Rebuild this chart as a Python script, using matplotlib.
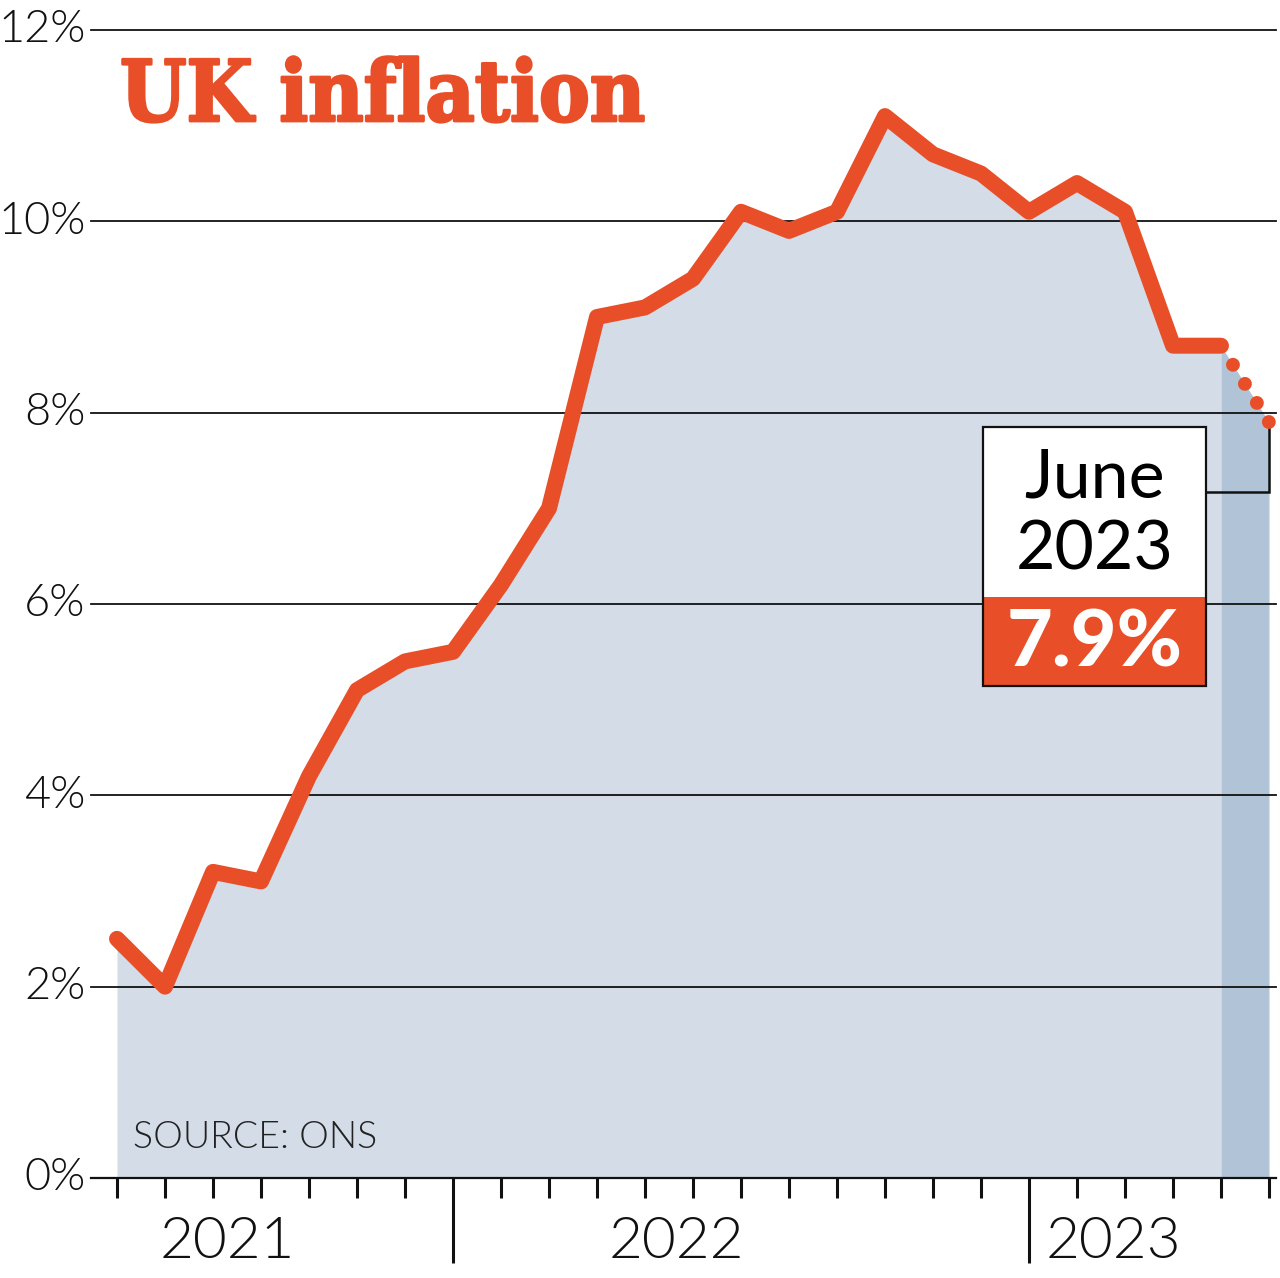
"""UK CPI inflation, June 2021 - June 2023 (source: ONS)."""

import matplotlib
import matplotlib.patheffects as pe
import matplotlib.pyplot as plt
from matplotlib import font_manager
from matplotlib.patches import Rectangle
from matplotlib.transforms import blended_transform_factory

matplotlib.use("Agg")

# ---------------------------------------------------------------------------
# Data
# ---------------------------------------------------------------------------
MONTHS = [
    "Jun 2021", "Jul 2021", "Aug 2021", "Sep 2021", "Oct 2021", "Nov 2021",
    "Dec 2021", "Jan 2022", "Feb 2022", "Mar 2022", "Apr 2022", "May 2022",
    "Jun 2022", "Jul 2022", "Aug 2022", "Sep 2022", "Oct 2022", "Nov 2022",
    "Dec 2022", "Jan 2023", "Feb 2023", "Mar 2023", "Apr 2023", "May 2023",
    "Jun 2023",
]
INFLATION = [
    2.5, 2.0, 3.2, 3.1, 4.2, 5.1, 5.4, 5.5, 6.2, 7.0, 9.0, 9.1, 9.4,
    10.1, 9.9, 10.1, 11.1, 10.7, 10.5, 10.1, 10.4, 10.1, 8.7, 8.7, 7.9,
]
Y_TICKS = [0, 2, 4, 6, 8, 10, 12]
YEAR_LABELS = ["2021", "2022", "2023"]
LATEST_LABEL = "June\n2023"

# ---------------------------------------------------------------------------
# Style
# ---------------------------------------------------------------------------
ORANGE = "#e84e27"
FILL_LIGHT = "#d3dce7"
FILL_DARK = "#b1c3d7"
INK = "#111111"

W, H = 1280, 1278
X0_PX, DX_PX = 117, 48        # pixel position of first month, pixels per month
Y0_PX, Y12_PX = 1178, 30      # pixel rows of 0% and 12%
AX_LEFT_PX, AX_RIGHT_PX = 91, 1276
YEAR_LABEL_X = [2.3, 11.65, 20.75]   # centres of the year labels, in months


def light_font(size):
    """Lato Light if it can be found on disk, else plain Lato."""
    for f in font_manager.fontManager.ttflist:
        base = f.fname.rsplit("/", 1)[-1].lower()
        if base.startswith("lato-light") and "italic" not in base:
            return font_manager.FontProperties(fname=f.fname, size=size)
    return font_manager.FontProperties(family="Lato", size=size)


def main() -> None:
    fig = plt.figure(figsize=(W / 100, H / 100), dpi=100)
    ax = fig.add_axes([
        AX_LEFT_PX / W,
        (H - Y0_PX) / H,
        (AX_RIGHT_PX - AX_LEFT_PX) / W,
        (Y0_PX - Y12_PX) / H,
    ])
    ax.set_xlim((AX_LEFT_PX - X0_PX) / DX_PX, (AX_RIGHT_PX - X0_PX) / DX_PX)
    ax.set_ylim(0, 12)
    for sp in ax.spines.values():
        sp.set_visible(False)

    x = list(range(len(INFLATION)))
    n = len(x)

    # Area under the line; last month is shaded darker
    ax.fill_between(x[: n - 1], 0, INFLATION[: n - 1], color=FILL_LIGHT, lw=0, zorder=1)
    ax.fill_between(x[n - 2:], 0, INFLATION[n - 2:], color=FILL_DARK, lw=0, zorder=1)

    # Horizontal rules
    for yv in Y_TICKS:
        ax.axhline(yv, color=INK, lw=1.6 if yv == 0 else 1.3, zorder=2, clip_on=False)

    # Y labels
    ax.set_yticks(Y_TICKS)
    ax.set_yticklabels([f"{v}%" for v in Y_TICKS], fontproperties=light_font(32.5))
    ax.tick_params(axis="y", length=0, pad=4, labelcolor=INK)
    for lab in ax.get_yticklabels():
        lab.set_verticalalignment("center")

    # Month ticks, longer at year boundaries
    year_starts = [i for i, m in enumerate(MONTHS) if m.startswith("Jan")]
    ax.set_xticks(year_starts)
    ax.set_xticks([i for i in x if i not in year_starts], minor=True)
    ax.set_xticklabels([])
    ax.tick_params(axis="x", which="major", length=61, width=2.2, color=INK, direction="out")
    ax.tick_params(axis="x", which="minor", length=14.5, width=2.2, color=INK, direction="out")

    # Year labels
    trans = blended_transform_factory(ax.transData, fig.transFigure)
    for label, xc in zip(YEAR_LABELS, YEAR_LABEL_X):
        ax.text(xc, (H - 1242) / H, label, transform=trans, ha="center", va="center",
                fontproperties=light_font(42), color=INK)

    # Inflation line: solid to May, dotted to the latest month
    ax.plot(x[: n - 1], INFLATION[: n - 1], color=ORANGE, lw=11.5,
            solid_joinstyle="round", solid_capstyle="round", zorder=3, clip_on=False)
    ax.plot(x[n - 2:], INFLATION[n - 2:], color=ORANGE, lw=10,
            linestyle=(0, (0.001, 1.62)), dash_capstyle="round", zorder=3, clip_on=False)

    # Latest-value callout box
    box_l, box_r = 18.04, 22.69
    box_top, box_mid, box_bot = 7.85, 6.07, 5.14
    ax.add_patch(Rectangle((box_l, box_mid), box_r - box_l, box_top - box_mid,
                           facecolor="white", edgecolor="none", zorder=4))
    ax.add_patch(Rectangle((box_l, box_bot), box_r - box_l, box_mid - box_bot,
                           facecolor=ORANGE, edgecolor="none", zorder=4))
    ax.add_patch(Rectangle((box_l, box_bot), box_r - box_l, box_top - box_bot,
                           facecolor="none", edgecolor=INK, lw=1.6, zorder=5))
    elbow_y = 7.17
    ax.plot([x[-1], x[-1], box_r], [INFLATION[-1], elbow_y, elbow_y],
            color=INK, lw=1.8, zorder=2.5, solid_joinstyle="miter", clip_on=False)
    cx = (box_l + box_r) / 2
    ax.text(cx, (box_top + box_mid) / 2 - 0.02, LATEST_LABEL, ha="center", va="center",
            fontsize=49, fontfamily="Lato", color="black", linespacing=1.2, zorder=6)
    ax.text(cx, (box_mid + box_bot) / 2 - 0.02, f"{INFLATION[-1]:.1f}%", ha="center",
            va="center", fontsize=57, fontfamily="Lato", fontweight="black",
            color="white", zorder=6)

    # Title and source
    fig.text(120 / W, (H - 121) / H, "UK inflation", ha="left", va="baseline",
             fontsize=61, fontfamily="DejaVu Serif", fontweight="bold",
             fontstretch="condensed", color=ORANGE,
             path_effects=[pe.withStroke(linewidth=2, foreground=ORANGE)])
    ax.text((133 - X0_PX) / DX_PX, (Y0_PX - 1138) / ((Y0_PX - Y12_PX) / 12), "SOURCE: ONS",
            ha="left", va="center", fontproperties=light_font(27),
            color="#222222", zorder=4)

    fig.savefig("out.png", dpi=100)
    plt.close(fig)


if __name__ == "__main__":
    main()
